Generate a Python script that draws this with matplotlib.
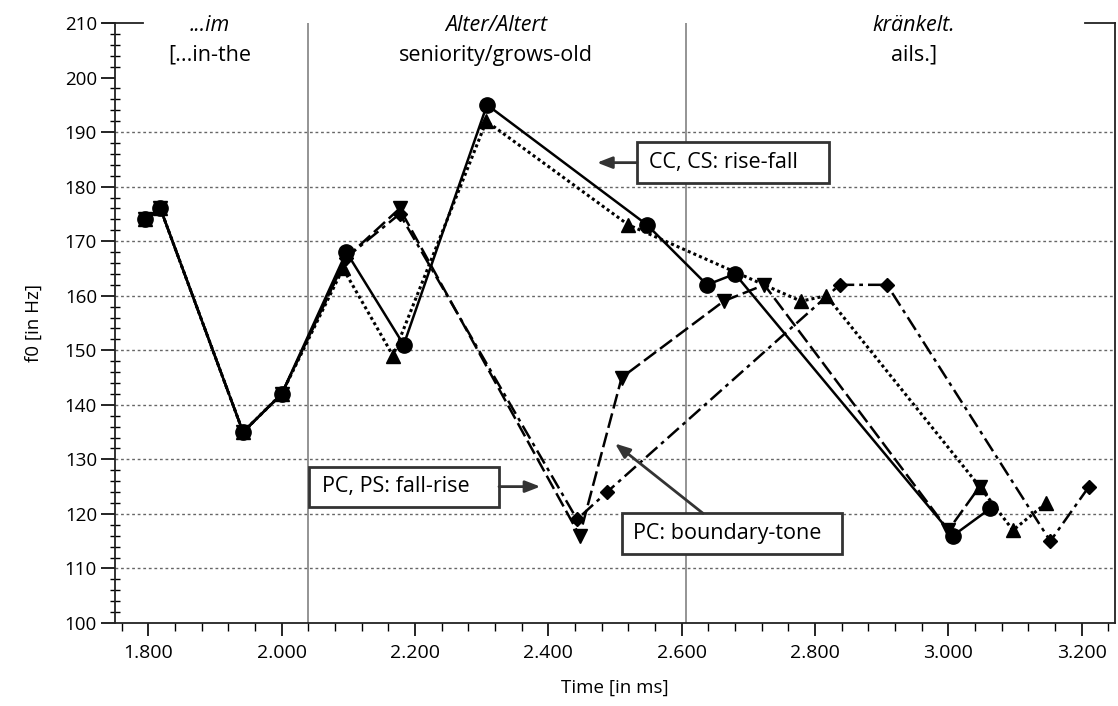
import matplotlib
matplotlib.use("Agg")
import matplotlib.pyplot as plt
from matplotlib.patches import Rectangle
from matplotlib.ticker import MultipleLocator, FuncFormatter

plt.rcParams['font.family'] = ['Open Sans', 'DejaVu Sans']

# f0 contours (time in ms as labelled, f0 in Hz)
cc_t = [1.795, 1.818, 1.942, 2.000, 2.097, 2.183, 2.308, 2.548, 2.638, 2.680, 3.007, 3.063]
cc_f = [174, 176, 135, 142, 168, 151, 195, 173, 162, 164, 116, 121]

cs_t = [1.795, 1.818, 1.942, 2.000, 2.092, 2.167, 2.307, 2.520, 2.779, 2.817, 3.047, 3.097, 3.147]
cs_f = [174, 176, 135, 142, 165, 149, 192, 173, 159, 160, 125, 117, 122]

ps_t = [1.795, 1.818, 1.942, 2.000, 2.097, 2.177, 2.447, 2.510, 2.663, 2.724, 3.000, 3.047]
ps_f = [174, 176, 135, 142, 167, 176, 116, 145, 159, 162, 117, 125]

pc_t = [1.795, 1.818, 1.942, 2.000, 2.097, 2.177, 2.443, 2.488, 2.837, 2.908, 3.153, 3.211]
pc_f = [174, 176, 135, 142, 167, 175, 119, 124, 162, 162, 115, 125]

boundaries = [2.04, 2.607]
words = [("...im", "[...in-the", 1.8925), ("Alter/Altert", "seniority/grows-old", 2.322),
         ("kränkelt.", "ails.]", 2.948)]

fig = plt.figure(figsize=(11.18, 7.06), dpi=100)
ax = fig.add_axes([0.1029, 0.1176, 0.8944, 0.8498])

ax.set_xlim(1.75, 3.25)
ax.set_ylim(100, 210)

for f in range(110, 200, 10):
    ax.axhline(f, color='#666666', lw=1, ls=(0, (2, 2)), zorder=1)
for b in boundaries:
    ax.axvline(b, color='#777777', lw=1.1, zorder=1)

ax.plot(ps_t, ps_f, color='black', lw=1.8, ls=(0, (6, 2)), marker='v', ms=10, zorder=3)
ax.plot(pc_t, pc_f, color='black', lw=1.8, ls=(0, (6, 2, 1.5, 2)), marker='D', ms=7.5, zorder=3)
ax.plot(cs_t, cs_f, color='black', lw=2.2, ls=(0, (1, 1)), marker='^', ms=10, zorder=4)
ax.plot(cc_t, cc_f, color='black', lw=1.8, ls='-', marker='o', ms=11, zorder=5)

# axes styling
ax.spines['top'].set_visible(False)
for s in ['left', 'right', 'bottom']:
    ax.spines[s].set_linewidth(1.3)
    ax.spines[s].set_color('#222222')
ax.plot([-0.012, 0.028], [1, 1], color='#222222', lw=1.3, transform=ax.transAxes, clip_on=False)
ax.plot([0.97, 1.0], [1, 1], color='#222222', lw=1.3, transform=ax.transAxes, clip_on=False)

ax.xaxis.set_major_locator(MultipleLocator(0.2))
ax.xaxis.set_minor_locator(MultipleLocator(0.04))
ax.yaxis.set_major_locator(MultipleLocator(10))
ax.yaxis.set_minor_locator(MultipleLocator(2))
ax.xaxis.set_major_formatter(FuncFormatter(lambda v, p: f"{v:.3f}"))
ax.tick_params(axis='y', which='major', direction='out', length=10, width=1.2, labelsize=13.5, pad=3)
ax.tick_params(axis='y', which='minor', direction='inout', length=7, width=1)
ax.tick_params(axis='x', which='major', direction='out', length=9, width=1.2, labelsize=14, pad=6)
ax.tick_params(axis='x', which='minor', direction='out', length=6, width=1)

ax.set_xlabel("Time [in ms]", fontsize=13.5, labelpad=12)
ax.set_ylabel("f0 [in Hz]", fontsize=13.5, labelpad=16)

for it, tr, x in words:
    ax.text(x, 209.6, it, ha='center', va='center', fontsize=15.5, style='italic')
    ax.text(x, 204.1, tr, ha='center', va='center', fontsize=15.5)

# label boxes: (text, x0, x1, y0, y1, text x, arrow start, arrow tip)
boxes = [
    ("CC, CS: rise-fall", 2.533, 2.821, 180.7, 188.2, 2.551, (2.533, 184.4), (2.473, 184.4)),
    ("PC, PS: fall-rise", 2.041, 2.326, 121.3, 128.6, 2.060, (2.326, 125.0), (2.388, 125.0)),
    ("PC: boundary-tone", 2.510, 2.840, 112.6, 120.1, 2.527, (2.632, 120.1), (2.500, 132.9)),
]
for txt, x0, x1, y0, y1, tx, a0, a1 in boxes:
    ax.add_patch(Rectangle((x0, y0), x1 - x0, y1 - y0, fc='white', ec='#333333', lw=2, zorder=6))
    ax.text(tx, (y0 + y1) / 2, txt, ha='left', va='center', fontsize=15.5, zorder=7)
    ax.annotate("", xy=a1, xytext=a0, zorder=6,
                arrowprops=dict(arrowstyle='-|>,head_length=0.9,head_width=0.35',
                                color='#333333', lw=2, shrinkA=0, shrinkB=0))

fig.savefig("out.png", dpi=100)
